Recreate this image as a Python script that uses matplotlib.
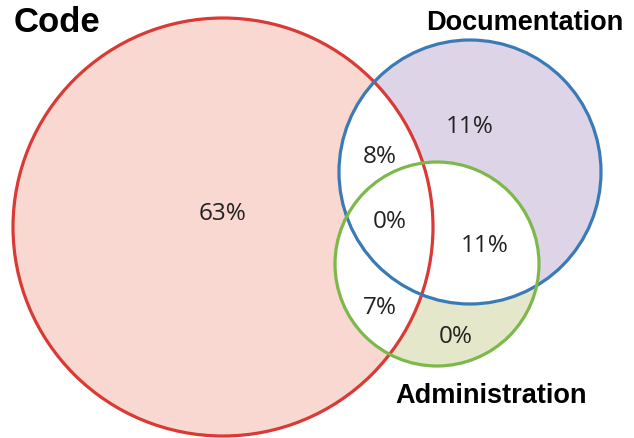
import matplotlib
matplotlib.use("Agg")
import matplotlib.pyplot as plt
from matplotlib.patches import Ellipse

# 集合名称与各区域百分比
sets = ["Code", "Documentation", "Administration"]
regions = ["Code", "Documentation", "Code&Doc", "Code&Doc&Admin", "Doc&Admin", "Code&Admin", "Admin"]
values = [63, 11, 8, 0, 11, 7, 0]

# 圆的位置（像素坐标）
circles = {
    "Code": ((223, 227), 420, 418),
    "Documentation": ((470, 172), 262, 264),
    "Administration": ((437, 264), 204, 204),
}
fills = {"Code": "#f8d8d0", "Documentation": "#ddd4e8", "Administration": "#e5e7ca"}
edges = {"Code": "#d93a35", "Documentation": "#3a7ab5", "Administration": "#7cb84a"}

label_pos = {
    "Code": (223, 214), "Documentation": (470, 127), "Code&Doc": (380, 157),
    "Code&Doc&Admin": (390, 222), "Doc&Admin": (485, 246), "Code&Admin": (380, 308),
    "Admin": (456, 337),
}
title_pos = {"Code": (14, 22, "left"), "Documentation": (623, 23, "right"),
             "Administration": (587, 396, "right")}
title_size = {"Code": 25, "Documentation": 19.5, "Administration": 19.5}

fig = plt.figure(figsize=(6.34, 4.38), dpi=100)
ax = fig.add_axes([0, 0, 1, 1])
ax.set_xlim(0, 634)
ax.set_ylim(438, 0)
ax.axis("off")


def ell(name, **kw):
    c, w, h = circles[name]
    return Ellipse(c, w, h, **kw)


# 填充
for name in sets:
    ax.add_patch(ell(name, facecolor=fills[name], edgecolor="none"))

# 交集部分为白色
pairs = [("Documentation", "Code"), ("Administration", "Code"), ("Administration", "Documentation")]
for a, b in pairs:
    clip = ell(b, facecolor="none", edgecolor="none")
    ax.add_patch(clip)
    p = ell(a, facecolor="white", edgecolor="none")
    ax.add_patch(p)
    p.set_clip_path(clip)

# 边框
for name in ["Code", "Documentation", "Administration"]:
    ax.add_patch(ell(name, facecolor="none", edgecolor=edges[name], linewidth=2.3))

for r, v in zip(regions, values):
    x, y = label_pos[r]
    ax.text(x, y, f"{v}%", ha="center", va="center", fontsize=17.5,
            family="Open Sans", color="#222222")

for name in sets:
    x, y, ha = title_pos[name]
    ax.text(x, y, name, ha=ha, va="center", fontsize=title_size[name],
            fontweight="bold", family="Liberation Sans", color="black")

fig.savefig("out.png", dpi=100)
